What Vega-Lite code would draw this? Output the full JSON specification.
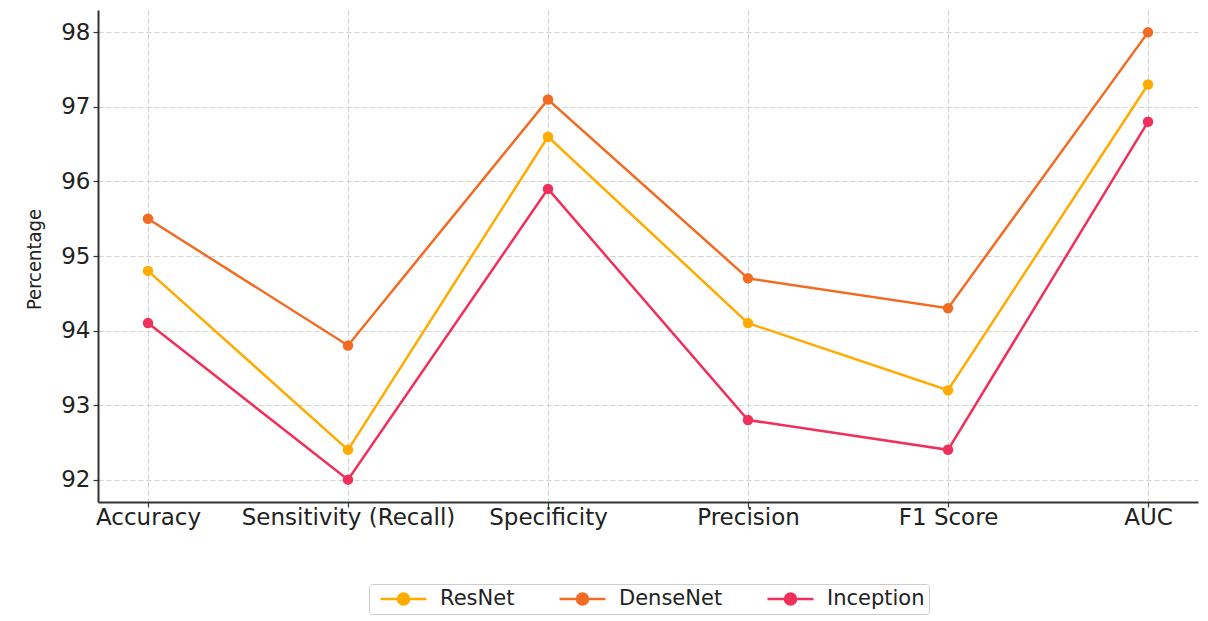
{
  "$schema": "https://vega.github.io/schema/vega-lite/v6.json",
  "width": 1100,
  "height": 492,
  "autosize": "none",
  "padding": {"left": 98, "top": 10, "right": 10, "bottom": 119},
  "background": "white",
  "data": {
    "values": [
      {"metric": "Accuracy", "model": "ResNet", "value": 94.8},
      {"metric": "Sensitivity (Recall)", "model": "ResNet", "value": 92.4},
      {"metric": "Specificity", "model": "ResNet", "value": 96.6},
      {"metric": "Precision", "model": "ResNet", "value": 94.1},
      {"metric": "F1 Score", "model": "ResNet", "value": 93.2},
      {"metric": "AUC", "model": "ResNet", "value": 97.3},
      {"metric": "Accuracy", "model": "DenseNet", "value": 95.5},
      {"metric": "Sensitivity (Recall)", "model": "DenseNet", "value": 93.8},
      {"metric": "Specificity", "model": "DenseNet", "value": 97.1},
      {"metric": "Precision", "model": "DenseNet", "value": 94.7},
      {"metric": "F1 Score", "model": "DenseNet", "value": 94.3},
      {"metric": "AUC", "model": "DenseNet", "value": 98.0},
      {"metric": "Accuracy", "model": "Inception", "value": 94.1},
      {"metric": "Sensitivity (Recall)", "model": "Inception", "value": 92.0},
      {"metric": "Specificity", "model": "Inception", "value": 95.9},
      {"metric": "Precision", "model": "Inception", "value": 92.8},
      {"metric": "F1 Score", "model": "Inception", "value": 92.4},
      {"metric": "AUC", "model": "Inception", "value": 96.8}
    ]
  },
  "mark": {"type": "line", "strokeWidth": 2.5, "point": {"size": 110, "filled": true, "opacity": 1}},
  "encoding": {
    "x": {
      "field": "metric",
      "type": "nominal",
      "sort": ["Accuracy", "Sensitivity (Recall)", "Specificity", "Precision", "F1 Score", "AUC"],
      "scale": {"type": "point", "padding": 0.25},
      "axis": {
        "title": null,
        "labelAngle": 0,
        "labelLimit": 0,
        "labelFont": "DejaVu Sans",
        "labelFontSize": 23,
        "labelColor": "#222",
        "labelPadding": -1,
        "tickColor": "#333",
        "tickSize": 5,
        "tickWidth": 1.2,
        "domainColor": "#333",
        "domainWidth": 2,
        "grid": true,
        "gridColor": "#d0d0d0",
        "gridDash": [5, 3],
        "gridWidth": 1
      }
    },
    "y": {
      "field": "value",
      "type": "quantitative",
      "scale": {"domain": [91.7, 98.3], "nice": false, "zero": false},
      "axis": {
        "title": "Percentage",
        "titleFont": "DejaVu Sans Condensed",
        "titleFontSize": 20,
        "titleFontWeight": "normal",
        "titleColor": "#222",
        "titleX": -54,
        "titleY": 249,
        "titleAlign": "center",
        "titleBaseline": "bottom",
        "values": [92, 93, 94, 95, 96, 97, 98],
        "format": "d",
        "labelFont": "DejaVu Sans",
        "labelFontSize": 23,
        "labelColor": "#222",
        "labelPadding": 3,
        "tickColor": "#333",
        "tickSize": 5,
        "tickWidth": 1.2,
        "domainColor": "#333",
        "domainWidth": 2,
        "grid": true,
        "gridColor": "#d0d0d0",
        "gridDash": [5, 3],
        "gridWidth": 1
      }
    },
    "color": {
      "field": "model",
      "type": "nominal",
      "sort": ["ResNet", "DenseNet", "Inception"],
      "scale": {"domain": ["ResNet", "DenseNet", "Inception"], "range": ["#ffab00", "#f26b23", "#f0305a"]},
      "legend": {
        "title": null,
        "orient": "none",
        "direction": "horizontal",
        "legendX": 271,
        "legendY": 574,
        "symbolType": "M-3.83,0L3.83,0M-0.92,0A0.92,0.92 0 1,1 0.92,0A0.92,0.92 0 1,1 -0.92,0",
        "symbolSize": 144,
        "symbolStrokeWidth": 2.5,
        "symbolOpacity": 1,
        "symbolOffset": 20,
        "labelFont": "DejaVu Sans",
        "labelFontSize": 21,
        "labelColor": "#222",
        "labelOffset": 26,
        "columnPadding": 37,
        "strokeColor": "#cccccc",
        "cornerRadius": 3,
        "padding": 4
      }
    }
  },
  "config": {"view": {"stroke": null}}
}
